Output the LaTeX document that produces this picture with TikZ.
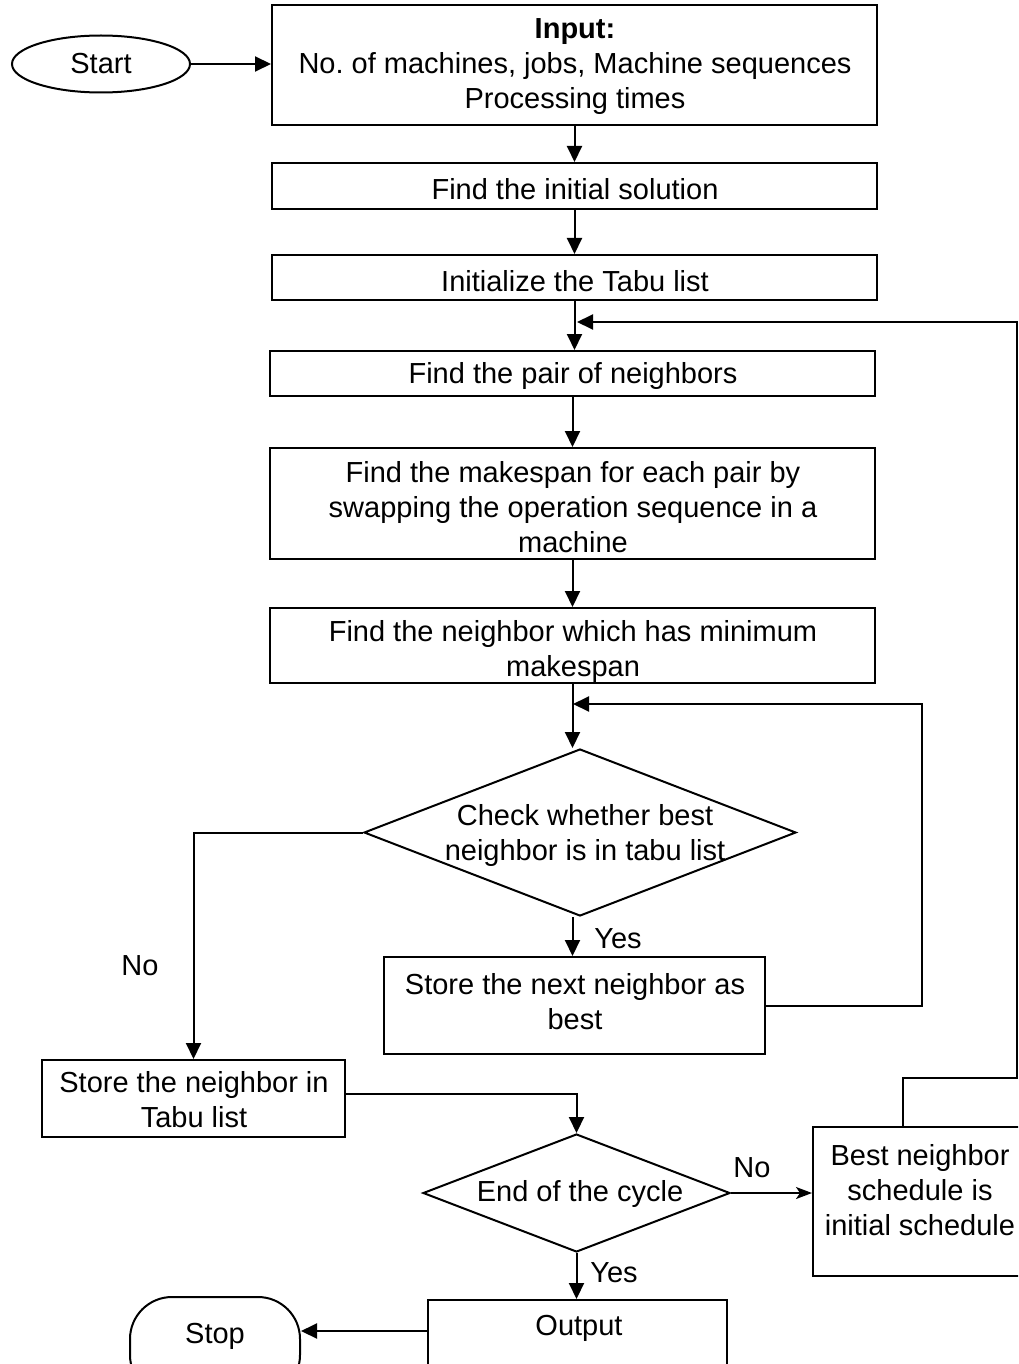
\documentclass[tikz,border=0pt]{standalone}
\usepackage{fontspec}
\setmainfont{Liberation Sans}
\usetikzlibrary{arrows.meta,shapes.geometric,calc}
\begin{document}
\frenchspacing
\begin{tikzpicture}[x=1pt,y=-1pt,
  every node/.style={font=\fontsize{29}{35}\selectfont},
  box/.style={draw, line width=2pt, rectangle, inner sep=0pt, align=center},
  dia/.style={draw, diamond, line width=2pt, inner sep=0pt},
  txt/.style={align=center, inner sep=0pt},
  arr/.style={line width=2pt, -{Triangle[length=16pt,width=15pt]}},
  thinarr/.style={line width=1.6pt, -{Stealth[length=16pt,width=12pt,inset=4pt]}},
  ln/.style={line width=2pt}]
\useasboundingbox (0,0) rectangle (1018,1364);
\clip (0,0) rectangle (1018,1364);
\fill[white] (0,0) rectangle (1018,1364);

% nodes
\node[box, ellipse, minimum width=178pt, minimum height=57pt] (start) at (101,64) {Start};
\node[box, minimum width=605pt, minimum height=120pt] (in) at (574.5,65) {};
\node[txt] (intxt) at (575,67)
  {\textbf{Input:}\\No. of machines, jobs, Machine sequences\\Processing times};
\node[box, minimum width=605pt, minimum height=46pt] (b2) at (574.5,186) {};
\node[txt] (b2t) at (575,189) {Find the initial solution};
\node[box, minimum width=605pt, minimum height=45pt] (b3) at (574.5,277.5) {};
\node[txt] (b3t) at (575,281) {Initialize the Tabu list};
\node[box, minimum width=605pt, minimum height=45pt] (b4) at (572.5,373.5) {};
\node[txt] (b4t) at (573,376) {Find the pair of neighbors};
\node[box, minimum width=605pt, minimum height=111pt] (b5) at (572.5,503.5) {};
\node[txt] (b5t) at (573,507)
  {Find the makespan for each pair by\\swapping the operation sequence in a\\machine};
\node[box, minimum width=605pt, minimum height=75pt] (b6) at (572.5,645.5) {};
\node[txt] (b6t) at (573,651) {Find the neighbor which has minimum\\makespan};
\node[dia, minimum width=432pt, minimum height=167pt] (d1) at (580,832.5) {};
\node[txt] (d1t) at (585,835) {Check whether best\\neighbor is in tabu list};
\node[box, minimum width=381pt, minimum height=97pt] (b7) at (574.5,1005.5) {};
\node[txt] (b7t) at (575,1002) {Store the next neighbor as\\best};
\node[box, minimum width=303pt, minimum height=77pt] (b8) at (193.5,1098.5) {};
\node[txt] (b8t) at (194,1100) {Store the neighbor in\\Tabu list};
\node[dia, minimum width=307pt, minimum height=118pt] (d2) at (576.5,1193) {};
\node[txt] (d2t) at (580,1194) {End of the cycle};
\node[box, minimum width=220pt, minimum height=149pt] (b9) at (923,1201.5) {};
\node[txt] (b9t) at (920,1190) {Best neighbor\\schedule is\\initial schedule};
\node[box, minimum width=299pt, minimum height=100pt] (out) at (577.5,1350) {};
\node[txt] (outt) at (579,1328) {Output};
\node[box, rounded corners=42pt, minimum width=170pt, minimum height=100pt] (stop) at (215,1347) {};
\node[txt] (stopt) at (215,1336) {Stop};

% labels
\node[txt] (no1) at (140,966) {No};
\node[txt] (yes1) at (618,939) {Yes};
\node[txt] (no2) at (752,1168) {No};
\node[txt] (yes2) at (614,1273) {Yes};

% junction coordinates
\coordinate (j1) at (573,704);
\coordinate (j2) at (577,322);
\coordinate (o1) at ($(out.west)+(0,-19)$);
\coordinate (e8) at ($(b8.east)+(0,-4.5)$);
\coordinate (n9) at ($(b9.north)+(-20,0)$);

% connectors
\draw[arr] (start.east) -- (start.east -| in.west);
\draw[arr] (in.south) -- (b2.north);
\draw[arr] (b2.south) -- (b3.north);
\draw[arr] (b3.south) -- (b3.south |- b4.north);
\draw[arr] (b4.south) -- (b5.north);
\draw[arr] (b5.south) -- (b6.north);
\draw[arr] (b6.south) -- (b6.south |- d1.north);
\draw[arr] (b6.south |- d1.south) -- (b6.south |- b7.north);
\draw[arr] (d1.west) -| (b8.north);
\draw[arr] (b7.east) -| (922,704) -- (j1);
\draw[arr] (e8) -| (d2.north);
\draw[thinarr] (d2.east) -- (d2.east -| b9.west);
\draw[arr] (d2.south) -- (d2.south |- out.north);
\draw[arr] (o1) -- (o1 -| stop.east);
\draw[arr] (n9) -- (n9 |- 0,1078) -- (1017,1078) -- (1017,322) -- (j2);
\end{tikzpicture}
\end{document}
